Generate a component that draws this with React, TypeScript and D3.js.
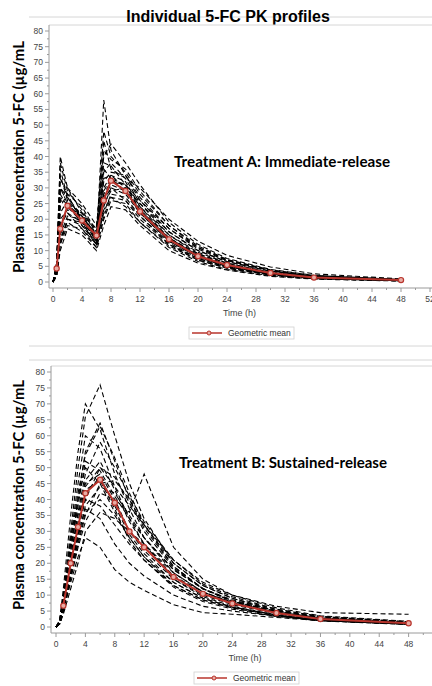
import React from 'react';
import * as d3 from 'd3';

// sampling times (h)
const timesA = [0, 0.5, 1, 2, 4, 6, 7, 8, 10, 12, 16, 20, 24, 30, 36, 48];
const timesB = [0, 0.5, 1, 2, 3, 4, 6, 8, 10, 12, 16, 20, 24, 30, 36, 48];

// individual profiles, treatment A (immediate-release)
const subjectsA = [
  [0, 5, 40, 30, 22, 14, 35, 38, 33, 25, 15, 9, 6, 3, 1.6, 0.6],
  [0, 4, 36, 27, 20, 13, 58, 42, 34, 26, 16, 10, 6.5, 3.4, 1.8, 0.7],
  [0, 3, 33, 28, 24, 16, 48, 40, 35, 28, 18, 11, 7, 3.8, 2, 0.8],
  [0, 2, 12, 20, 18, 13, 22, 28, 27, 21, 12, 7.5, 4.8, 2.5, 1.2, 0.4],
  [0, 6, 28, 24, 19, 12, 30, 34, 30, 23, 14, 8.5, 5.5, 2.8, 1.4, 0.5],
  [0, 4, 22, 26, 21, 15, 28, 32, 31, 24, 14, 9, 5.5, 2.9, 1.5, 0.6],
  [0, 3, 18, 22, 17, 11, 20, 26, 25, 19, 11, 6.5, 4, 2, 1, 0.4],
  [0, 5, 30, 25, 22, 17, 45, 36, 33, 30, 20, 13, 8.5, 4.8, 2.6, 1],
  [0, 4, 26, 30, 25, 18, 40, 44, 38, 31, 19, 12, 7.5, 4, 2.1, 0.8],
  [0, 2, 10, 17, 15, 10, 18, 24, 23, 18, 10, 6, 3.8, 1.8, 0.9, 0.3],
  [0, 3, 15, 21, 20, 14, 26, 30, 28, 22, 13, 8, 5, 2.6, 1.3, 0.5],
  [0, 5, 34, 26, 18, 12, 24, 30, 26, 20, 12, 7, 4.5, 2.3, 1.1, 0.4],
  [0, 4, 20, 23, 22, 16, 32, 35, 34, 27, 17, 11, 7, 3.7, 1.9, 0.7],
  [0, 3, 24, 28, 19, 12, 36, 33, 29, 22, 13, 8, 5, 2.6, 1.3, 0.5],
  [0, 2, 14, 19, 16, 11, 21, 27, 24, 19, 11.5, 7, 4.4, 2.2, 1.1, 0.4],
  [0, 6, 38, 29, 23, 15, 42, 39, 36, 29, 18, 11.5, 7.2, 3.8, 2, 0.8],
  [0, 4, 16, 24, 21, 15, 25, 29, 30, 25, 16, 10, 6.5, 3.5, 1.8, 0.7],
  [0, 3, 12, 18, 17, 12, 23, 27, 26, 21, 12.5, 7.5, 4.6, 2.4, 1.2, 0.4],
  [0, 5, 30, 27, 21, 14, 38, 37, 31, 23, 13.5, 8, 5, 2.6, 1.3, 0.5],
  [0, 4, 19, 22, 19, 14, 27, 31, 29, 23, 14, 8.5, 5.3, 2.8, 1.4, 0.5],
  [0, 3, 26, 25, 20, 13, 33, 34, 32, 24, 15, 9.5, 6, 3.1, 1.6, 0.6],
  [0, 2, 13, 20, 19, 15, 29, 33, 31, 26, 17, 10.5, 6.8, 3.6, 1.9, 0.7],
];

// individual profiles, treatment B (sustained-release)
const subjectsB = [
  [0, 2, 10, 30, 50, 66, 76, 60, 45, 34, 20, 13, 9, 5, 3, 1.5],
  [0, 2, 12, 35, 55, 70, 62, 48, 37, 28, 17, 11, 7.5, 4.5, 2.6, 1.2],
  [0, 1, 8, 24, 40, 55, 64, 52, 40, 31, 19, 12, 8, 4.8, 2.8, 1.3],
  [0, 1, 6, 18, 30, 40, 50, 44, 38, 32, 21, 14, 10, 6.5, 4.5, 4],
  [0, 1, 5, 15, 25, 33, 42, 40, 36, 48, 25, 15, 10, 6, 3.5, 1.8],
  [0, 1, 7, 20, 33, 45, 48, 40, 30, 24, 15, 10, 7, 4.2, 2.4, 1.1],
  [0, 1, 5, 14, 22, 28, 25, 18, 14, 11.5, 7, 4.5, 4, 3, 2, 0.8],
  [0, 2, 9, 26, 40, 50, 45, 36, 28, 22, 13, 8.5, 6, 3.6, 2, 0.9],
  [0, 1, 6, 17, 28, 38, 44, 42, 35, 28, 18, 12, 8.5, 5.2, 3.2, 1.6],
  [0, 1, 7, 21, 35, 46, 52, 43, 33, 26, 16, 11, 7.8, 4.6, 2.7, 1.3],
  [0, 2, 8, 22, 32, 40, 38, 32, 26, 21, 13, 8.5, 6, 3.5, 2, 0.9],
  [0, 1, 4, 12, 20, 30, 36, 34, 30, 26, 17, 11, 7.5, 4.5, 2.6, 1.3],
  [0, 2, 9, 28, 45, 60, 56, 44, 34, 26, 15, 9.5, 6.5, 3.8, 2.2, 1],
  [0, 1, 6, 19, 31, 42, 47, 38, 29, 23, 14, 9, 6.3, 3.7, 2.1, 0.9],
  [0, 1, 5, 16, 27, 36, 40, 35, 28, 22, 14, 9, 6.2, 3.8, 2.2, 1],
  [0, 1, 7, 22, 36, 48, 58, 50, 41, 33, 21, 13.5, 9.5, 5.6, 3.3, 1.6],
  [0, 1, 6, 18, 29, 37, 34, 26, 20, 16, 10, 6.5, 5, 3.4, 2.2, 1],
  [0, 2, 8, 24, 38, 52, 49, 41, 34, 28, 18, 12, 8.2, 5, 3, 1.4],
  [0, 1, 6, 17, 30, 43, 46, 37, 27, 21, 12.5, 8, 5.6, 3.3, 1.9, 0.8],
  [0, 1, 5, 16, 26, 35, 45, 46, 40, 32, 20, 13, 9, 5.5, 3.3, 1.6],
  [0, 2, 9, 27, 42, 54, 63, 53, 42, 32, 19, 12, 8, 4.7, 2.7, 1.2],
  [0, 1, 7, 20, 32, 44, 50, 47, 39, 30, 18.5, 12, 8.2, 4.9, 2.9, 1.4],
];

// geometric means
const meanTimesA = [0.5, 1, 2, 4, 6, 7, 8, 10, 12, 16, 20, 24, 30, 36, 48];
const meanA = [4.3, 17, 24.3, 19.6, 14.8, 26, 32.3, 29, 22.5, 13.6, 8.2, 5.4, 2.9, 1.4, 0.6];
const meanTimesB = [1, 2, 3, 4, 6, 8, 10, 12, 16, 20, 24, 30, 36, 48];
const meanB = [6.7, 20, 31.4, 42, 46.2, 39, 30, 25, 15.7, 10.4, 7.4, 4.4, 2.5, 1.2];

const xTicksA = d3.range(0, 53, 4);
const xTicksB = d3.range(0, 49, 4);
const yTicks = d3.range(0, 81, 5);

const SANS = "'Liberation Sans', Arial, sans-serif";
const BOLD = "Lato, 'Open Sans', sans-serif";
const RED = '#b8342c';
const AXIS = '#9a9a9a';
const TICKTXT = '#444';

const Panel = ({times, subjects, meanTimes, meanVals, xr, yr, xTicks, axisLeft, axisBottom, frameTop,
  note, noteX, noteY, noteLen, labelCY, labelLen, legendX, legendY}) => {
  const x = d3.scaleLinear().domain([0, 52]).range(xr);
  const y = d3.scaleLinear().domain([0, 80]).range(yr);
  const line = d3.line<[number, number]>().x(d => x(d[0])).y(d => y(d[1]));
  const minorX = d3.range(0, 53, 2).filter(v => v % 4 !== 0);
  const minorY = d3.range(2.5, 80, 5);
  return (
    <g>
      {/* frame */}
      <line x1={axisLeft} x2={432} y1={frameTop} y2={frameTop} stroke="#d6d6d6" strokeWidth={1} />
      <line x1={axisLeft} x2={axisLeft} y1={frameTop} y2={axisBottom} stroke={AXIS} strokeWidth={1} />
      <line x1={axisLeft} x2={432} y1={axisBottom} y2={axisBottom} stroke={AXIS} strokeWidth={1} />
      {/* y ticks */}
      {yTicks.map(v => (
        <g key={'y' + v}>
          <line x1={axisLeft - 4} x2={axisLeft} y1={y(v)} y2={y(v)} stroke={AXIS} />
          <text x={axisLeft - 6} y={y(v) + 3} fontSize={8.5} fill={TICKTXT} textAnchor="end"
            fontFamily={SANS}>{v}</text>
        </g>
      ))}
      {minorY.map(v => (
        <line key={'my' + v} x1={axisLeft - 2} x2={axisLeft} y1={y(v)} y2={y(v)} stroke={AXIS} />
      ))}
      {/* x ticks */}
      {xTicks.map(v => (
        <g key={'x' + v}>
          <line x1={x(v)} x2={x(v)} y1={axisBottom} y2={axisBottom + 4} stroke={AXIS} />
          <text x={x(v)} y={axisBottom + 14} fontSize={8.5} fill={TICKTXT} textAnchor="middle"
            fontFamily={SANS}>{v}</text>
        </g>
      ))}
      {minorX.map(v => (
        <line key={'mx' + v} x1={x(v)} x2={x(v)} y1={axisBottom} y2={axisBottom + 2} stroke={AXIS} />
      ))}
      <text x={x(26) - 2} y={axisBottom + 28} fontSize={9} fill={TICKTXT} textAnchor="middle"
        fontFamily={SANS}>Time (h)</text>
      {/* individual profiles */}
      {subjects.map((s, i) => (
        <path key={'s' + i} d={line(times.map((t, j) => [t, s[j]]))!} fill="none" stroke="#000"
          strokeWidth={1.1} strokeDasharray="5,3" />
      ))}
      {/* geometric mean */}
      <path d={line(meanTimes.map((t, j) => [t, meanVals[j]]))!} fill="none" stroke={RED} strokeWidth={2} />
      {meanTimes.map((t, j) => (
        <circle key={'m' + j} cx={x(t)} cy={y(meanVals[j])} r={2.6} fill="#e8aca4" stroke={RED} strokeWidth={1.2} />
      ))}
      {/* annotation */}
      <text x={noteX} y={noteY} fontSize={16} fontWeight="bold" fill="#000" textLength={noteLen}
        lengthAdjust="spacingAndGlyphs" fontFamily={BOLD}>{note}</text>
      {/* y label */}
      <text transform={`translate(24, ${labelCY}) rotate(-90)`} textAnchor="middle" fontSize={16}
        fontWeight="bold" fill="#000" textLength={labelLen} lengthAdjust="spacingAndGlyphs"
        fontFamily={BOLD}>Plasma concentration 5-FC (µg/mL</text>
      {/* legend */}
      <g transform={`translate(${legendX}, ${legendY})`}>
        <rect x={0} y={0} width={105} height={12} fill="#fff" stroke="#d0d0d0" strokeWidth={0.8} />
        <line x1={3} x2={33} y1={6} y2={6} stroke={RED} strokeWidth={1.5} />
        <circle cx={20} cy={6} r={2} fill="#e8aca4" stroke={RED} strokeWidth={1} />
        <text x={39} y={9.2} fontSize={8.5} fill="#333" fontFamily={SANS}>Geometric mean</text>
      </g>
    </g>
  );
};

export default function App() {
  return (
    <svg width={432} height={686} style={{position: 'absolute', left: 0, top: 0, background: '#fff'}}>
      <rect width={432} height={686} fill="#fff" />
      <line x1={29} x2={432} y1={17} y2={17} stroke="#d6d6d6" />
      <line x1={29} x2={432} y1={346} y2={346} stroke="#d6d6d6" />
      <line x1={29} x2={432} y1={360} y2={360} stroke="#d6d6d6" />
      <text x={228} y={22} textAnchor="middle" fontSize={16} fontWeight="bold" fill="#000"
        fontFamily={SANS}>Individual 5-FC PK profiles</text>
      <Panel times={timesA} subjects={subjectsA} meanTimes={meanTimesA} meanVals={meanA}
        xr={[53, 430]} yr={[282, 31]} xTicks={xTicksA} axisLeft={49} axisBottom={288} frameTop={25}
        note="Treatment A: Immediate-release" noteX={174} noteY={167} noteLen={216}
        labelCY={157} labelLen={232} legendX={189} legendY={327} />
      <Panel times={timesB} subjects={subjectsB} meanTimes={meanTimesB} meanVals={meanB}
        xr={[56, 438]} yr={[627, 372]} xTicks={xTicksB} axisLeft={51} axisBottom={633} frameTop={366}
        note="Treatment B: Sustained-release" noteX={179} noteY={468} noteLen={208}
        labelCY={495} labelLen={230} legendX={194} legendY={672} />
    </svg>
  );
}
